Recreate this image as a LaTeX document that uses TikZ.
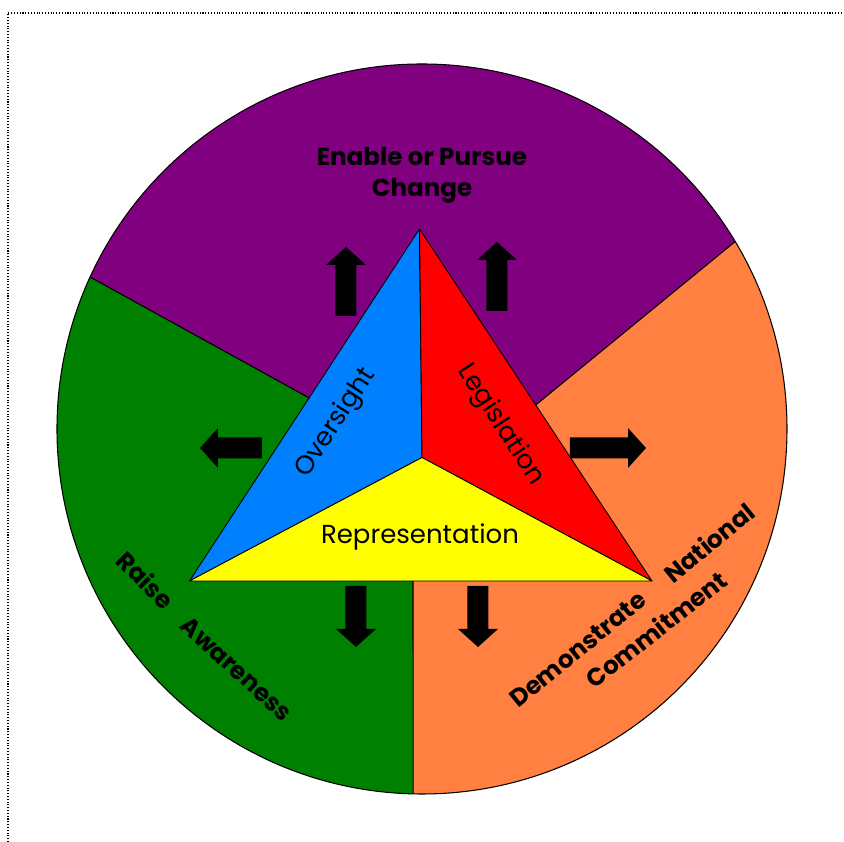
\documentclass[tikz,border=0pt]{standalone}
\usepackage{fontspec}
\setmainfont{Poppins}
\usepackage{tikz}
\usetikzlibrary{calc}

\definecolor{wheelpurple}{RGB}{128,0,128}
\definecolor{wheelgreen}{RGB}{0,128,0}
\definecolor{wheelorange}{RGB}{255,128,64}
\definecolor{triblue}{RGB}{0,128,255}
\definecolor{trired}{RGB}{255,0,0}
\definecolor{triyellow}{RGB}{255,255,0}

\begin{document}
\begin{tikzpicture}[
    sector/.style={draw=black, line width=0.6pt},
    face/.style={draw=black, line width=0.5pt, line join=round},
    blockarrow/.style={fill=black},
    facelabel/.style={font=\fontsize{14.8}{17}\selectfont, inner sep=0},
    rimlabel/.style={font=\bfseries\fontsize{14}{17.6}\selectfont, inner sep=0},
  ]
  \useasboundingbox (-8.44,-8.26) rectangle (8.44,8.58);
  % --- frame (dotted, left and top only) ---
  \draw[densely dotted, line width=0.6pt] (-8.28,-8.26) -- (-8.28,8.32) -- (8.44,8.32);

  % --- corners of the triangle and ends of the wheel borders ---
  \coordinate (apex) at (-0.05,4.00);
  \coordinate (bl) at (-4.65,-3.04);
  \coordinate (br) at (4.60,-3.04);
  \coordinate (mid) at (0,-0.57);
  \coordinate (q1) at ($(apex)!0.48!(bl)$);
  \coordinate (q2) at ($(apex)!0.50!(br)$);
  \coordinate (q3) at (-0.18,-3.04);
  \coordinate (p1) at (155.4:7.3);
  \coordinate (p2) at (30.9:7.3);
  \coordinate (p3) at (268.6:7.3);

  % --- wheel ---
  \fill[wheelorange] (0,0) circle (7.3);
  \fill[wheelgreen] (p1) arc[start angle=155.4, end angle=268.6, radius=7.3] -- (q3) -- (mid) -- (q1) -- cycle;
  \fill[wheelpurple] (p2) arc[start angle=30.9, end angle=155.4, radius=7.3] -- (q1) -- (mid) -- (q2) -- cycle;
  \draw[sector] (0,0) circle (7.3);
  \draw[sector] (p1) -- (q1);
  \draw[sector] (p2) -- (q2);
  \draw[sector] (p3) -- (q3);

  % --- triangle ---
  \filldraw[face, fill=triblue] (apex) -- (bl) -- (mid) -- cycle;
  \filldraw[face, fill=trired] (apex) -- (mid) -- (br) -- cycle;
  \filldraw[face, fill=triyellow] (bl) -- (mid) -- (br) -- cycle;

  \node[facelabel, rotate=57] (oversight) at (-1.72,0.12) {Oversight};
  \node[facelabel, rotate=-57] (legislation) at (1.57,0.08) {Legislation};
  \node[facelabel, anchor=base] (representation) at (-0.04,-2.30) {Representation};

  % --- arrows out of the triangle ---
  \foreach \x/\y/\len/\ang in {-1.52/2.26/1.38/90, 1.50/2.36/1.38/90, -3.20/-0.38/1.24/180,
                               2.96/-0.38/1.52/0, -1.32/-3.14/1.22/270, 1.12/-3.14/1.22/270}
    \fill[blockarrow, shift={(\x,\y)}, rotate=\ang] (0,-0.21) -- ({\len-0.36},-0.21) -- ({\len-0.36},-0.40)
      -- (\len,0) -- ({\len-0.36},0.40) -- ({\len-0.36},0.21) -- (0,0.21) -- cycle;

  % --- wheel labels ---
  \node[rimlabel, align=center] (change) at (0,5.07) {Enable or Pursue\\Change};
  \node[rimlabel, rotate=-45.7] (raise) at (-5.52,-3.02) {Raise};
  \node[rimlabel, rotate=-42.3] (awareness) at (-3.71,-4.80) {Awareness};
  \node[rimlabel, rotate=39] (demonstrate) at (3.12,-4.41) {Demonstrate};
  \node[rimlabel, rotate=39.2] (national) at (5.74,-2.27) {National};
  \node[rimlabel, rotate=38] (commitment) at (4.68,-4.00) {Commitment};
\end{tikzpicture}
\end{document}
